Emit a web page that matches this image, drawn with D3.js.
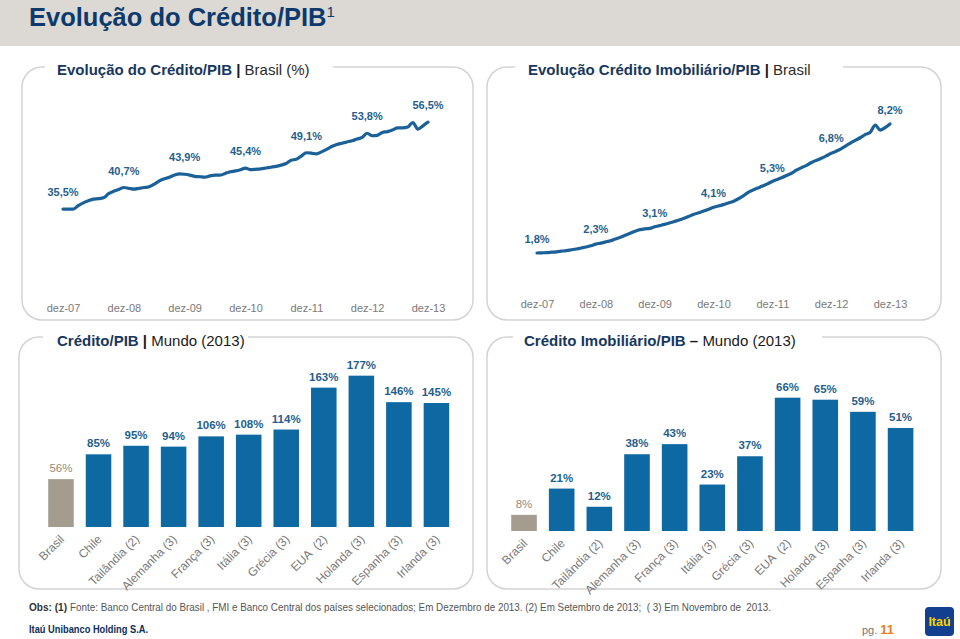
<!DOCTYPE html>
<html><head><meta charset="utf-8">
<script src="https://cdn.jsdelivr.net/npm/d3@7/dist/d3.min.js"></script>
<style>
body{margin:0;background:#fff;}
svg{display:block;font-family:Arial,"Liberation Sans",sans-serif;}
</style></head><body>
<svg id="c" width="960" height="639"></svg>
<script>
// ---------- DATA ----------
const tickLabels = ["dez-07","dez-08","dez-09","dez-10","dez-11","dez-12","dez-13"];
const tickMonths = [0,12,24,36,48,60,72];
// Crédito/PIB Brasil (%), monthly dez-07 .. dez-13
const creditoBrasil = [35.5,35.5,35.5,36.3,37.0,37.5,37.9,38.0,38.2,39.2,39.8,40.2,
  40.7,40.5,40.3,40.5,40.7,40.9,41.5,42.3,42.8,43.2,43.7,44.0,
  43.9,43.7,43.4,43.3,43.2,43.5,43.7,43.7,44.1,44.5,44.7,45.0,
  45.4,45.0,45.1,45.2,45.4,45.6,45.8,46.1,46.5,47.3,47.5,48.3,
  49.1,49.0,48.8,49.3,49.9,50.6,51.1,51.4,51.7,52.0,52.4,52.8,
  53.8,53.2,53.3,54.0,54.2,54.6,55.1,55.1,55.3,56.4,54.8,55.6,56.5];
// Crédito Imobiliário/PIB Brasil (%), monthly dez-07 .. dez-13
const imobBrasil = [1.80,1.81,1.82,1.84,1.86,1.89,1.92,1.96,2.00,2.05,2.10,2.16,
  2.24,2.29,2.35,2.41,2.50,2.58,2.68,2.78,2.88,2.96,3.00,3.02,
  3.10,3.16,3.22,3.29,3.36,3.44,3.52,3.62,3.72,3.80,3.88,3.97,
  4.07,4.13,4.20,4.28,4.36,4.48,4.62,4.80,4.92,5.02,5.12,5.23,
  5.35,5.45,5.55,5.66,5.77,5.92,6.04,6.15,6.29,6.40,6.50,6.62,
  6.75,6.85,6.97,7.12,7.26,7.40,7.53,7.68,7.80,8.15,7.90,8.02,8.20];
const creditoLabels = [35.5,40.7,43.9,45.4,49.1,53.8,56.5];
const imobLabels = [1.8,2.3,3.1,4.1,5.3,6.8,8.2];
const paises = ["Brasil","Chile","Tailândia (2)","Alemanha (3)","França (3)","Itália (3)","Grécia (3)","EUA  (2)","Holanda (3)","Espanha (3)","Irlanda (3)"];
const creditoMundo = [56,85,95,94,106,108,114,163,177,146,145];
const imobMundo = [8,21,12,38,43,23,37,66,65,59,51];

// ---------- STYLE ----------
const C = {
  header:"#dcd9d5", title:"#0d3a6b", navy:"#17375e", line:"#1b6197", bar:"#0e68a2",
  lab:"#1f5f8f", brasil:"#a39c8f", brasilTxt:"#948c7d", axis:"#7a7a7a", border:"#d3d3d3"
};
const svg = d3.select("#c");
const fmt1 = v => d3.format(".1f")(v).replace(".", ",") + "%";
const fmt0 = v => d3.format("d")(v) + "%";

// header
svg.append("rect").attr("x",0).attr("y",0).attr("width",960).attr("height",46).attr("fill",C.header);
const ht = svg.append("text").attr("x",29).attr("y",26).attr("fill",C.title)
  .attr("font-size",25.5).attr("font-weight","bold");
ht.append("tspan").text("Evolução do Crédito/PIB");
ht.append("tspan").attr("font-size",15).attr("font-weight","normal").attr("dy",-9).text("1");

// panels
function panel(x0,y0,x1,y1,gap,tx,ty,parts){
  svg.append("rect").attr("x",x0).attr("y",y0).attr("width",x1-x0).attr("height",y1-y0)
    .attr("rx",20).attr("ry",20).attr("fill","none").attr("stroke",C.border).attr("stroke-width",1.5);
  svg.append("rect").attr("x",gap[0]).attr("y",y0-4).attr("width",gap[1]-gap[0]).attr("height",8).attr("fill","#fff");
  const t = svg.append("text").attr("x",tx).attr("y",ty).attr("font-size",15);
  parts.forEach(p=>t.append("tspan").attr("font-weight",p[1]?"bold":"normal").attr("fill",p[2]).style("white-space","pre").text(p[0]));
}
panel(22,67,473,320,[45,333],57,74.5,[["Evolução do Crédito/PIB",1,C.navy],[" | ",1,"#1a1a1a"],["Brasil (%)",0,"#2b2b2b"]]);
panel(487,67,941,320,[515,843],528,74.5,[["Evolução Crédito Imobiliário/PIB",1,C.navy],[" | ",1,"#1a1a1a"],["Brasil",0,"#2b2b2b"]]);
panel(19,337,473,589,[43,248],57,346,[["Crédito/PIB",1,C.navy],[" | ",1,"#1a1a1a"],["Mundo (2013)",0,"#1a1a1a"]]);
panel(487,337,941,589,[513,822],524,346,[["Crédito Imobiliário/PIB",1,C.navy],[" – ",1,"#1a1a1a"],["Mundo (2013)",0,"#1a1a1a"]]);

// line charts
function lineChart(values, labels, xr, ydom, yr, axisY, labOff){
  const x = d3.scaleLinear().domain([0,72]).range(xr);
  const y = d3.scaleLinear().domain(ydom).range(yr);
  const g = svg.append("g");
  g.append("path").datum(values).attr("fill","none").attr("stroke",C.line)
    .attr("stroke-width",3.2).attr("stroke-linejoin","round").attr("stroke-linecap","round")
    .attr("d", d3.line().x((d,i)=>x(i)).y(d=>y(d)).curve(d3.curveMonotoneX));
  g.selectAll("text.lab").data(labels).join("text").attr("class","lab")
    .attr("x",(d,i)=>x(tickMonths[i])).attr("y",d=>y(d)-labOff)
    .attr("text-anchor","middle").attr("font-size",11).attr("font-weight","bold").attr("fill",C.lab)
    .text(fmt1);
  const ax = g.append("g").attr("transform",`translate(0,${axisY})`)
    .call(d3.axisBottom(x).tickValues(tickMonths).tickSize(0).tickPadding(7).tickFormat((d,i)=>tickLabels[i]));
  ax.select(".domain").remove();
  ax.selectAll("text").attr("font-size",11).attr("fill",C.axis).attr("font-family","Arial,'Liberation Sans',sans-serif");
}
lineChart(creditoBrasil, creditoLabels, [63,428], [0,60], [356,107.6], 297, 13);
lineChart(imobBrasil, imobLabels, [537,890], [0,10], [289.3,87.7], 293, 10);

// bar charts
function barChart(values, xr, ydom, yr, labY){
  const x = d3.scaleBand().domain(paises).range(xr).paddingInner(0.32).paddingOuter(0.16);
  const y = d3.scaleLinear().domain(ydom).range(yr);
  const g = svg.append("g");
  g.selectAll("rect").data(values).join("rect")
    .attr("x",(d,i)=>x(paises[i])).attr("width",x.bandwidth())
    .attr("y",d=>y(d)).attr("height",d=>y(0)-y(d))
    .attr("fill",(d,i)=>i===0?C.brasil:C.bar);
  g.selectAll("text.v").data(values).join("text").attr("class","v")
    .attr("x",(d,i)=>x(paises[i])+x.bandwidth()/2).attr("y",d=>y(d)-7)
    .attr("text-anchor","middle").attr("font-size",11.5)
    .attr("font-weight",(d,i)=>i===0?"normal":"bold")
    .attr("fill",(d,i)=>i===0?C.brasilTxt:C.lab).text(fmt0);
  g.selectAll("text.c").data(paises).join("text").attr("class","c")
    .attr("transform",d=>`translate(${x(d)+x.bandwidth()/2+4},${labY}) rotate(-45)`)
    .attr("text-anchor","end").attr("font-size",12).attr("fill",C.axis)
    .style("white-space","pre").text(d=>d);
}
barChart(creditoMundo, [42.2,455.2], [0,200], [527,356], 540);
barChart(imobMundo, [505.2,919.4], [0,80], [531,369.4], 544);

// footer
const narrow = "'Liberation Sans Narrow','Arial Narrow',Arial,sans-serif";
svg.append("text").attr("x",29).attr("y",611).attr("font-size",11).attr("font-weight","bold").attr("fill","#333")
  .attr("font-family",narrow).attr("textLength",38).attr("lengthAdjust","spacingAndGlyphs").text("Obs: (1)");
svg.append("text").attr("x",70).attr("y",611).attr("font-size",11).attr("fill","#555")
  .attr("font-family",narrow).attr("textLength",701).attr("lengthAdjust","spacingAndGlyphs").style("white-space","pre")
  .text("Fonte: Banco Central do Brasil , FMI e Banco Central dos países selecionados; Em Dezembro de 2013. (2) Em Setembro de 2013;  ( 3) Em Novembro de  2013.");
svg.append("text").attr("x",29).attr("y",633).attr("font-size",11.5).attr("font-weight","bold")
  .attr("fill","#0d2f5a").attr("font-family",narrow).attr("textLength",119).attr("lengthAdjust","spacingAndGlyphs")
  .text("Itaú Unibanco Holding S.A.");
const pg = svg.append("text").attr("x",862).attr("y",634).attr("font-size",11).attr("fill","#777").attr("font-family",narrow);
pg.append("tspan").text("pg. ");
pg.append("tspan").attr("fill","#e8801e").attr("font-weight","bold").attr("font-size",13).text("11");
svg.append("rect").attr("x",925).attr("y",607).attr("width",29).attr("height",29).attr("rx",4).attr("fill","#123f8e");
svg.append("text").attr("x",939.5).attr("y",626).attr("text-anchor","middle").attr("font-size",12.5)
  .attr("font-weight","bold").attr("fill","#ffd200").attr("font-family",narrow).text("Itaú");
</script>
</body></html>
